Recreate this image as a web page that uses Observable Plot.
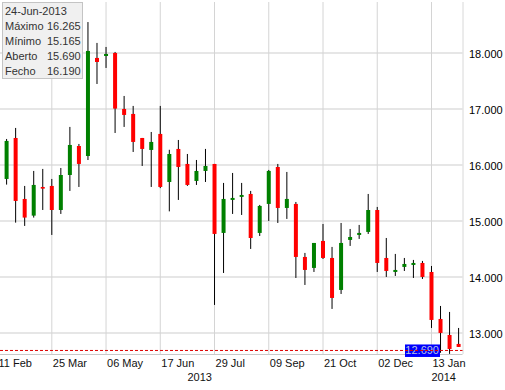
<!DOCTYPE html>
<html>
<head>
<meta charset="utf-8">
<script src="https://cdn.jsdelivr.net/npm/d3@7"></script>
<script src="https://cdn.jsdelivr.net/npm/@observablehq/plot@0.6"></script>
<style>
  body { margin: 0; background: #fff; }
  #wrap { position: relative; width: 505px; height: 390px; font-family: "Liberation Sans", Arial, sans-serif; }
  #tip { position: absolute; left: 2px; top: 2px; width: 77px; height: 74px; background: #f0f0f0;
         border: 1px solid #c4c4c4; padding: 1px 0 0 2px; font-size: 11px; line-height: 15px; color: #333; }
  #tip span { display: inline-block; width: 42px; }
</style>
</head>
<body>
<div id="wrap"></div>
<script>
// ---- data (weekly candles) ----
const dates = ["2013-02-18","2013-02-25","2013-03-04","2013-03-11","2013-03-18","2013-03-25","2013-04-01","2013-04-08",
  "2013-04-15","2013-04-22","2013-04-29","2013-05-06","2013-05-13","2013-05-20","2013-05-27","2013-06-03","2013-06-10",
  "2013-06-17","2013-06-24","2013-07-01","2013-07-08","2013-07-15","2013-07-22","2013-07-29","2013-08-05","2013-08-12",
  "2013-08-19","2013-08-26","2013-09-02","2013-09-09","2013-09-16","2013-09-23","2013-09-30","2013-10-07","2013-10-14",
  "2013-10-21","2013-10-28","2013-11-04","2013-11-11","2013-11-18","2013-11-25","2013-12-02","2013-12-09","2013-12-16",
  "2013-12-23","2013-12-30","2014-01-06","2014-01-13","2014-01-20","2014-01-27","2014-02-03"];
const opens = [15.744,16.476,15.387,15.089,15.601,15.619,15.190,15.815,16.333,16.154,17.905,17.940,17.994,16.994,16.905,
  16.476,16.262,16.548,15.690,16.280,16.012,15.708,15.887,16.012,14.780,15.369,15.423,15.476,14.780,15.298,15.958,15.226,
  15.298,14.351,14.155,14.637,14.333,13.762,14.655,14.744,14.798,15.190,14.333,14.083,14.173,14.208,14.244,14.083,13.244,
  12.958,12.798];
const highs = [16.458,16.655,15.619,15.887,15.923,15.744,15.940,16.673,16.369,18.546,18.173,18.101,18.012,17.226,17.048,
  16.476,16.583,17.048,16.265,16.440,16.190,16.083,16.280,16.012,15.673,15.851,15.673,15.530,15.280,15.905,16.012,15.869,
  15.333,14.423,14.601,14.940,14.530,14.958,14.851,14.923,15.476,15.244,14.690,14.405,14.333,14.298,14.280,14.190,13.476,
  13.369,13.083];
const lows = [15.643,14.964,14.905,15.054,15.190,14.744,15.119,15.530,15.601,16.082,17.440,17.726,16.565,16.673,16.226,
  15.976,15.601,15.580,15.165,15.369,15.620,15.637,15.690,13.494,14.065,15.119,15.101,14.494,14.726,14.994,14.958,15.030,
  13.976,13.851,14.083,14.315,13.423,13.690,14.548,14.673,14.762,14.083,13.994,14.012,14.101,13.976,13.958,13.083,12.640,
  12.620,12.744];
const closes = [16.423,15.351,15.054,15.637,15.571,15.190,15.815,16.351,16.012,18.030,17.833,17.976,17.000,16.887,16.405,
  16.280,16.405,15.601,16.190,15.958,15.637,15.887,15.976,14.762,15.387,15.405,15.458,14.690,15.262,15.887,15.226,15.387,
  14.351,14.119,14.601,14.333,13.619,14.601,14.708,14.780,15.190,14.244,14.101,14.119,14.226,14.244,13.994,13.226,12.994,
  12.708,12.744];
const xTicks = ["2013-02-11","2013-03-25","2013-05-06","2013-06-17","2013-07-29","2013-09-09","2013-10-21","2013-12-02","2014-01-13"];
const yearLabels = ["2013","2014"];
const yearDates = ["2013-07-08","2014-01-13"];
const yTicks = [13,14,15,16,17,18];
const lastPrice = 12.690;
const tipDate = "24-Jun-2013";
const tipLabels = ["Máximo","Mínimo","Aberto","Fecho"];
const tipValues = ["16.265","15.165","15.690","16.190"];

// ---- build ----
const P = s => new Date(s + (s.length === 10 ? "T00:00:00Z" : ""));
const rows = dates.map((d, i) => ({date: P(d), open: opens[i], high: highs[i], low: lows[i], close: closes[i]}));
const up = rows.filter(r => r.close >= r.open);
const down = rows.filter(r => r.close < r.open);
const xDomain = [P("2013-02-13T06:43:00Z"), P("2014-02-06T09:36:00Z")];
const yDomain = [12.618, 18.904];
const ticks = xTicks.map(P);
const fmt = d3.utcFormat("%d %b");

const chart = Plot.plot({
  width: 505, height: 390,
  marginLeft: 0, marginRight: 42.5, marginTop: 2, marginBottom: 36,
  x: {type: "utc", domain: xDomain, axis: null},
  y: {domain: yDomain, axis: null},
  style: {fontFamily: "'Liberation Sans', Arial, sans-serif", fontSize: "11px", background: "#fff"},
  marks: [
    Plot.ruleY(yTicks, {stroke: "#e6e6e6", strokeWidth: 2}),
    Plot.ruleX(ticks, {stroke: "#d4d4d4", strokeWidth: 1}),
    Plot.ruleX([xDomain[1]], {stroke: "#d8d8d8"}),
    Plot.ruleY([yDomain[0]], {stroke: "#c8c8c8"}),
    Plot.ruleX(rows, {x: "date", y1: "low", y2: "high", stroke: "#000", strokeWidth: 1}),
    Plot.ruleX(up, {x: "date", y1: "open", y2: "close", stroke: "#008000", strokeWidth: 4}),
    Plot.ruleX(down, {x: "date", y1: "open", y2: "close", stroke: "#ff0000", strokeWidth: 4}),
    Plot.text(yTicks, {x: xDomain[1], y: d => d, text: d => d.toFixed(3), textAnchor: "start", dx: 6, dy: 1.5, fill: "#000", fontSize: 11}),
    Plot.text(ticks, {x: d => d, text: d => fmt(d), frameAnchor: "bottom", textAnchor: "start", lineAnchor: "middle", dx: 1, dy: 9, fill: "#111", fontSize: 11}),
    Plot.text(yearLabels, {x: (d, i) => P(yearDates[i]), text: d => d, frameAnchor: "bottom", textAnchor: "start", lineAnchor: "middle", dx: 0, dy: 23, fill: "#111", fontSize: 11}),
    Plot.ruleY([lastPrice], {stroke: "#dd0000", strokeWidth: 1, strokeDasharray: "3,2"})
  ]
});

document.getElementById("wrap").appendChild(chart);

// last price badge, placed under the dashed line through the y scale
const yPos = chart.scale("y").apply(lastPrice);
const ns = "http://www.w3.org/2000/svg";
const g = document.createElementNS(ns, "g");
const rect = document.createElementNS(ns, "rect");
rect.setAttribute("x", 405); rect.setAttribute("y", yPos - 5.5);
rect.setAttribute("width", 35); rect.setAttribute("height", 12.5);
rect.setAttribute("fill", "#0000ff");
const t = document.createElementNS(ns, "text");
t.setAttribute("x", 439); t.setAttribute("y", yPos + 4.5);
t.setAttribute("text-anchor", "end"); t.setAttribute("fill", "#b8c4e0");
t.setAttribute("font-size", "11"); t.textContent = lastPrice.toFixed(3);
g.appendChild(rect); g.appendChild(t);
chart.insertBefore(g, chart.lastChild);

// tooltip box
const tip = document.createElement("div");
tip.id = "tip";
tip.innerHTML = tipDate + "<br>" + tipLabels.map((l, i) => "<span>" + l + "</span>" + tipValues[i]).join("<br>");
document.getElementById("wrap").appendChild(tip);
</script>
</body>
</html>
